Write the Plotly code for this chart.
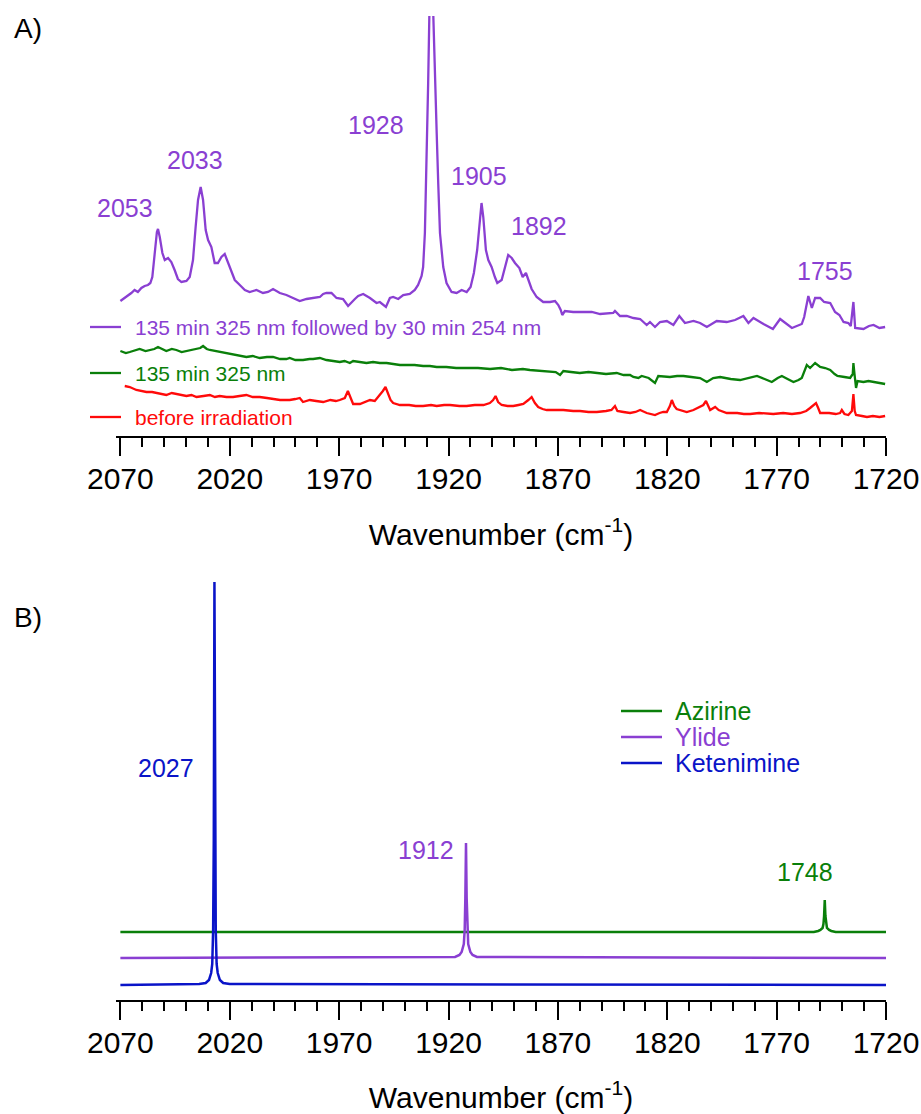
import plotly.graph_objects as go

# ---------------- Panel A: experimental spectra (absorbance, offset) ----------------
purple_wn = [2070.0, 2067.3, 2065.0, 2063.5, 2062.0, 2060.4, 2058.9, 2057.4, 2056.3, 2055.4, 2054.3, 2053.3, 2052.8, 2052.0, 2050.8, 2049.7, 2048.2, 2046.7, 2045.2, 2043.7, 2042.1, 2039.8, 2038.3, 2036.8, 2035.6, 2034.5, 2033.3, 2032.2, 2031.0, 2029.9, 2028.4, 2026.9, 2025.4, 2023.8, 2022.3, 2020.8, 2019.2, 2017.7, 2015.4, 2013.1, 2010.9, 2007.8, 2004.8, 2002.5, 2000.2, 1997.1, 1994.1, 1991.0, 1988.0, 1984.9, 1981.9, 1978.8, 1977.3, 1975.8, 1973.5, 1971.2, 1968.2, 1965.9, 1962.8, 1961.3, 1959.0, 1955.9, 1952.9, 1951.4, 1948.6, 1946.8, 1945.3, 1943.0, 1940.7, 1937.7, 1935.4, 1933.9, 1932.3, 1931.6, 1930.8, 1930.0, 1929.3, 1928.6, 1927.9, 1927.2, 1926.2, 1925.4, 1924.7, 1923.9, 1922.4, 1920.9, 1918.6, 1916.3, 1914.0, 1911.7, 1909.9, 1908.4, 1906.9, 1905.6, 1904.9, 1904.1, 1902.9, 1901.8, 1900.3, 1898.8, 1897.7, 1895.7, 1894.2, 1892.7, 1891.1, 1889.6, 1887.6, 1886.1, 1884.6, 1883.5, 1882.0, 1879.7, 1876.7, 1873.6, 1871.3, 1869.8, 1868.7, 1868.0, 1866.8, 1863.0, 1858.4, 1854.5, 1850.7, 1847.0, 1844.7, 1843.9, 1841.6, 1838.5, 1835.5, 1832.4, 1829.4, 1827.9, 1825.6, 1823.3, 1820.2, 1817.2, 1814.5, 1811.9, 1808.0, 1805.0, 1801.9, 1797.4, 1792.8, 1789.0, 1785.2, 1782.9, 1780.6, 1776.0, 1771.7, 1768.4, 1766.0, 1763.0, 1758.5, 1757.4, 1755.5, 1753.9, 1752.4, 1750.1, 1748.3, 1745.5, 1743.3, 1741.3, 1739.4, 1737.2, 1736.1, 1734.9, 1734.1, 1730.3, 1727.8, 1725.7, 1723.0, 1720.4]
purple_abs = [0.135, 0.139, 0.143, 0.146, 0.144, 0.148, 0.150, 0.151, 0.153, 0.159, 0.186, 0.204, 0.207, 0.199, 0.183, 0.176, 0.178, 0.174, 0.166, 0.157, 0.154, 0.155, 0.159, 0.176, 0.209, 0.236, 0.249, 0.236, 0.206, 0.196, 0.189, 0.173, 0.173, 0.179, 0.182, 0.173, 0.163, 0.156, 0.151, 0.146, 0.144, 0.146, 0.143, 0.144, 0.147, 0.143, 0.141, 0.138, 0.135, 0.137, 0.138, 0.139, 0.142, 0.143, 0.143, 0.138, 0.137, 0.130, 0.137, 0.140, 0.142, 0.138, 0.133, 0.134, 0.129, 0.138, 0.139, 0.137, 0.141, 0.142, 0.146, 0.151, 0.160, 0.169, 0.203, 0.269, 0.353, 0.440, 0.480, 0.440, 0.353, 0.303, 0.253, 0.203, 0.169, 0.153, 0.144, 0.143, 0.146, 0.144, 0.149, 0.163, 0.186, 0.219, 0.233, 0.219, 0.186, 0.176, 0.169, 0.159, 0.153, 0.156, 0.169, 0.181, 0.178, 0.173, 0.168, 0.159, 0.163, 0.156, 0.147, 0.139, 0.134, 0.134, 0.135, 0.131, 0.126, 0.121, 0.125, 0.124, 0.124, 0.124, 0.122, 0.123, 0.123, 0.125, 0.120, 0.120, 0.118, 0.117, 0.111, 0.114, 0.109, 0.114, 0.115, 0.111, 0.120, 0.113, 0.115, 0.113, 0.109, 0.115, 0.114, 0.116, 0.120, 0.113, 0.118, 0.112, 0.107, 0.117, 0.113, 0.108, 0.112, 0.119, 0.140, 0.128, 0.138, 0.138, 0.134, 0.133, 0.124, 0.121, 0.114, 0.113, 0.110, 0.134, 0.108, 0.107, 0.110, 0.111, 0.108, 0.109]

green_wn = [2070.0, 2067.5, 2065.7, 2063.0, 2061.2, 2058.5, 2056.6, 2054.5, 2052.8, 2051.0, 2049.0, 2046.5, 2044.4, 2042.0, 2039.8, 2037.5, 2035.2, 2033.5, 2032.2, 2030.5, 2029.1, 2026.8, 2024.6, 2021.5, 2018.5, 2015.5, 2012.4, 2009.5, 2006.3, 2003.0, 2000.2, 1997.0, 1994.1, 1992.6, 1990.0, 1988.0, 1986.5, 1983.5, 1981.9, 1978.8, 1975.8, 1972.7, 1969.7, 1967.5, 1965.1, 1963.6, 1960.5, 1957.5, 1954.5, 1951.4, 1948.3, 1945.0, 1942.2, 1939.2, 1935.5, 1931.6, 1928.5, 1925.4, 1921.0, 1916.5, 1911.7, 1906.5, 1901.0, 1896.0, 1891.0, 1886.0, 1882.8, 1878.0, 1873.6, 1871.0, 1869.0, 1867.5, 1864.0, 1860.0, 1856.0, 1852.2, 1848.0, 1843.1, 1840.0, 1837.0, 1835.5, 1833.2, 1831.7, 1828.5, 1826.4, 1825.6, 1824.1, 1821.0, 1818.8, 1815.5, 1812.6, 1809.0, 1805.0, 1801.9, 1799.0, 1795.8, 1791.0, 1786.7, 1782.5, 1779.0, 1775.5, 1772.2, 1769.5, 1767.6, 1765.0, 1762.3, 1760.0, 1758.5, 1756.2, 1754.7, 1752.4, 1750.1, 1747.8, 1745.5, 1743.5, 1742.2, 1739.0, 1736.4, 1735.2, 1734.9, 1734.4, 1733.7, 1733.0, 1730.3, 1728.0, 1725.7, 1723.0, 1720.4]
green_abs = [0.085, 0.083, 0.084, 0.086, 0.087, 0.085, 0.086, 0.087, 0.089, 0.087, 0.085, 0.087, 0.086, 0.084, 0.085, 0.086, 0.087, 0.088, 0.090, 0.087, 0.086, 0.085, 0.084, 0.083, 0.081, 0.080, 0.079, 0.080, 0.078, 0.079, 0.079, 0.077, 0.077, 0.078, 0.076, 0.076, 0.076, 0.077, 0.077, 0.078, 0.076, 0.075, 0.074, 0.075, 0.073, 0.075, 0.074, 0.073, 0.074, 0.073, 0.073, 0.072, 0.071, 0.071, 0.071, 0.070, 0.070, 0.069, 0.069, 0.068, 0.068, 0.068, 0.067, 0.068, 0.066, 0.067, 0.066, 0.065, 0.064, 0.064, 0.061, 0.065, 0.064, 0.063, 0.064, 0.063, 0.062, 0.063, 0.061, 0.061, 0.059, 0.058, 0.060, 0.058, 0.054, 0.053, 0.060, 0.059, 0.059, 0.060, 0.060, 0.059, 0.058, 0.054, 0.058, 0.059, 0.057, 0.056, 0.058, 0.060, 0.057, 0.054, 0.058, 0.060, 0.057, 0.054, 0.056, 0.058, 0.071, 0.068, 0.073, 0.069, 0.068, 0.066, 0.062, 0.060, 0.059, 0.058, 0.062, 0.073, 0.062, 0.048, 0.055, 0.054, 0.055, 0.054, 0.053, 0.052]

red_wn = [2068.0, 2065.7, 2062.7, 2060.0, 2058.1, 2055.5, 2053.5, 2051.0, 2049.0, 2046.5, 2044.4, 2042.0, 2039.8, 2037.5, 2035.2, 2032.0, 2029.1, 2026.8, 2024.6, 2021.5, 2018.5, 2015.5, 2012.4, 2009.5, 2006.3, 2003.0, 2000.2, 1997.0, 1994.1, 1992.6, 1990.0, 1988.0, 1986.5, 1983.4, 1980.5, 1977.3, 1974.0, 1971.5, 1969.7, 1967.4, 1966.0, 1964.8, 1963.6, 1960.5, 1958.0, 1955.9, 1953.7, 1951.4, 1950.0, 1948.8, 1947.6, 1946.5, 1945.3, 1942.2, 1938.0, 1935.0, 1931.6, 1928.0, 1925.4, 1922.0, 1919.3, 1915.0, 1911.7, 1908.0, 1904.0, 1901.1, 1899.6, 1898.5, 1897.3, 1895.7, 1893.0, 1890.4, 1888.0, 1885.8, 1883.5, 1882.0, 1880.5, 1879.0, 1877.0, 1875.1, 1871.0, 1867.5, 1863.0, 1859.9, 1856.0, 1852.2, 1848.0, 1845.5, 1843.9, 1842.8, 1840.0, 1837.0, 1834.5, 1832.4, 1829.4, 1827.9, 1825.6, 1823.5, 1821.8, 1820.2, 1818.8, 1817.9, 1816.8, 1815.7, 1813.0, 1811.1, 1808.0, 1805.0, 1803.5, 1802.3, 1801.0, 1800.4, 1798.1, 1796.5, 1792.8, 1788.0, 1785.0, 1782.1, 1778.0, 1774.0, 1771.5, 1767.0, 1763.0, 1759.3, 1756.5, 1754.7, 1752.0, 1751.0, 1750.1, 1746.0, 1743.0, 1741.0, 1740.2, 1739.0, 1737.2, 1735.6, 1734.9, 1734.3, 1733.7, 1731.0, 1728.7, 1726.0, 1723.0, 1720.4]
red_abs = [0.050, 0.049, 0.046, 0.045, 0.044, 0.044, 0.043, 0.042, 0.041, 0.043, 0.042, 0.041, 0.040, 0.041, 0.039, 0.040, 0.041, 0.039, 0.040, 0.039, 0.039, 0.040, 0.041, 0.039, 0.039, 0.038, 0.037, 0.036, 0.036, 0.036, 0.037, 0.038, 0.034, 0.036, 0.035, 0.034, 0.036, 0.035, 0.036, 0.038, 0.045, 0.038, 0.032, 0.032, 0.034, 0.036, 0.035, 0.041, 0.045, 0.049, 0.041, 0.036, 0.033, 0.031, 0.031, 0.030, 0.030, 0.031, 0.030, 0.031, 0.031, 0.030, 0.030, 0.031, 0.031, 0.033, 0.036, 0.040, 0.034, 0.031, 0.030, 0.030, 0.031, 0.032, 0.036, 0.039, 0.033, 0.029, 0.027, 0.026, 0.026, 0.026, 0.025, 0.025, 0.024, 0.024, 0.025, 0.026, 0.030, 0.025, 0.024, 0.023, 0.024, 0.026, 0.023, 0.022, 0.021, 0.023, 0.024, 0.024, 0.030, 0.036, 0.030, 0.027, 0.025, 0.024, 0.026, 0.029, 0.031, 0.035, 0.028, 0.026, 0.029, 0.026, 0.023, 0.023, 0.022, 0.022, 0.023, 0.022, 0.022, 0.023, 0.022, 0.023, 0.025, 0.028, 0.033, 0.028, 0.023, 0.023, 0.022, 0.023, 0.026, 0.022, 0.021, 0.025, 0.042, 0.025, 0.021, 0.020, 0.019, 0.020, 0.019, 0.020]

series_a_names = ["135 min 325 nm followed by 30 min 254 nm", "135 min 325 nm", "before irradiation"]
peak_labels_a = ["2053", "2033", "1928", "1905", "1892", "1755"]
peak_label_a_wn = [2068.0, 2036.0, 1953.2, 1906.1, 1878.6, 1747.9]
peak_label_a_abs = [0.228, 0.276, 0.311, 0.260, 0.210, 0.165]

# ---------------- Panel B: computed spectra (offset) ----------------
azirine_wn = [2070.0, 1753.0, 1751.0, 1750.0, 1749.0, 1748.6, 1748.3, 1748.0, 1747.7, 1747.4, 1747.0, 1746.0, 1745.0, 1743.0, 1720.0]
azirine_int = [0.068, 0.068, 0.069, 0.070, 0.072, 0.076, 0.084, 0.100, 0.084, 0.076, 0.072, 0.070, 0.069, 0.068, 0.068]

ylide_wn = [2070.0, 1917.0, 1915.0, 1914.0, 1913.0, 1912.6, 1912.3, 1912.0, 1911.7, 1911.4, 1911.0, 1910.0, 1909.0, 1907.0, 1720.0]
ylide_int = [0.042, 0.043, 0.045, 0.048, 0.056, 0.070, 0.102, 0.157, 0.102, 0.070, 0.056, 0.048, 0.045, 0.043, 0.042]

keten_wn = [2070.0, 2034.0, 2031.0, 2029.5, 2028.5, 2028.0, 2027.6, 2027.3, 2027.0, 2026.7, 2026.4, 2026.0, 2025.5, 2024.5, 2023.0, 2020.0, 1720.0]
keten_int = [0.015, 0.016, 0.017, 0.020, 0.027, 0.036, 0.070, 0.160, 0.418, 0.160, 0.070, 0.036, 0.027, 0.020, 0.017, 0.016, 0.015]

series_b_names = ["Azirine", "Ylide", "Ketenimine"]
peak_labels_b = ["2027", "1912", "1748"]
peak_label_b_wn = [2049.0, 1930.3, 1757.0]
peak_label_b_int = [0.232, 0.150, 0.128]

tick_vals = [2070, 2020, 1970, 1920, 1870, 1820, 1770, 1720]
tick_text = [str(v) for v in tick_vals]

# ---------------- styling ----------------
PURPLE = "#8A3FD2"
GREEN = "#0A7F0A"
RED = "#FF0A0A"
BLUE = "#0A14C8"
FONT = "Liberation Sans, Arial, Helvetica, sans-serif"
W, H = 921, 1114

fig = go.Figure()

for wn, ab, col, nm in [(purple_wn, purple_abs, PURPLE, series_a_names[0]),
                        (green_wn, green_abs, GREEN, series_a_names[1]),
                        (red_wn, red_abs, RED, series_a_names[2])]:
    fig.add_trace(go.Scatter(x=wn, y=ab, mode="lines", name=nm,
                             line=dict(color=col, width=2.3), xaxis="x", yaxis="y"))

for wn, it, col, nm in [(azirine_wn, azirine_int, GREEN, series_b_names[0]),
                        (ylide_wn, ylide_int, PURPLE, series_b_names[1]),
                        (keten_wn, keten_int, BLUE, series_b_names[2])]:
    fig.add_trace(go.Scatter(x=wn, y=it, mode="lines", name=nm,
                             line=dict(color=col, width=2.5), xaxis="x2", yaxis="y2"))

x_left, x_right = 116 / W, 886 / W

xaxis_common = dict(
    range=[2072, 1720], showline=True, linecolor="black", linewidth=2,
    automargin=False,
    ticks="outside", ticklen=18, tickwidth=2, tickcolor="black",
    ticklabelstandoff=-3,
    tickvals=tick_vals, ticktext=tick_text,
    tickfont=dict(family=FONT, size=30, color="black"),
    showgrid=False, zeroline=False,
    minor=dict(dtick=10, tick0=1720, ticks="outside", ticklen=9, tickwidth=2,
               tickcolor="black", showgrid=False),
    title=dict(text="Wavenumber (cm<sup>-1</sup>)", font=dict(family=FONT, size=30, color="black"),
               standoff=30),
)

fig.update_layout(
    width=W, height=H, margin=dict(l=0, r=0, t=0, b=0, autoexpand=False),
    paper_bgcolor="white", plot_bgcolor="white", showlegend=False,
    xaxis=dict(domain=[x_left, x_right], anchor="y", **xaxis_common),
    yaxis=dict(domain=[1 - 436 / H, 1 - 16 / H], range=[0, 0.42], visible=False, automargin=False),
    xaxis2=dict(domain=[x_left, x_right], anchor="y2", **xaxis_common),
    yaxis2=dict(domain=[1 - 1000 / H, 1 - 575 / H], range=[0, 0.425], visible=False, automargin=False),
)

annotations = []
shapes = []

# panel letters
annotations.append(dict(text="A)", x=12 / W, y=1 - 28 / H, xref="paper", yref="paper",
                        xanchor="left", yanchor="middle", showarrow=False,
                        font=dict(family=FONT, size=28, color="black")))
annotations.append(dict(text="B)", x=12 / W, y=1 - 617 / H, xref="paper", yref="paper",
                        xanchor="left", yanchor="middle", showarrow=False,
                        font=dict(family=FONT, size=28, color="black")))

# panel A peak labels
for t, xw, ya in zip(peak_labels_a, peak_label_a_wn, peak_label_a_abs):
    annotations.append(dict(text=t, x=xw, y=ya, xref="x", yref="y", showarrow=False,
                            xanchor="center", yanchor="middle",
                            font=dict(family=FONT, size=25, color=PURPLE)))

# panel A legend
leg_a_y = [327, 373, 417]
for nm, col, py in zip(series_a_names, [PURPLE, GREEN, RED], leg_a_y):
    shapes.append(dict(type="line", xref="paper", yref="paper", x0=90 / W, x1=121 / W,
                       y0=1 - py / H, y1=1 - py / H, line=dict(color=col, width=2.3)))
    annotations.append(dict(text=nm, x=133 / W, y=1 - py / H, xref="paper", yref="paper",
                            xanchor="left", yanchor="middle", showarrow=False,
                            font=dict(family=FONT, size=21, color=col)))

# panel B peak labels
for t, xw, yi, col in zip(peak_labels_b, peak_label_b_wn, peak_label_b_int, [BLUE, PURPLE, GREEN]):
    annotations.append(dict(text=t, x=xw, y=yi, xref="x2", yref="y2", showarrow=False,
                            xanchor="center", yanchor="middle",
                            font=dict(family=FONT, size=25, color=col)))

# panel B legend
leg_b_y = [711, 737, 763]
for nm, col, py in zip(series_b_names, [GREEN, PURPLE, BLUE], leg_b_y):
    shapes.append(dict(type="line", xref="paper", yref="paper", x0=621 / W, x1=662 / W,
                       y0=1 - py / H, y1=1 - py / H, line=dict(color=col, width=2.5)))
    annotations.append(dict(text=nm, x=673 / W, y=1 - py / H, xref="paper", yref="paper",
                            xanchor="left", yanchor="middle", showarrow=False,
                            font=dict(family=FONT, size=25, color=col)))

fig.update_layout(annotations=annotations, shapes=shapes)

fig.write_html(
    "out.html",
    config={"displayModeBar": False},
    post_script="document.body.style.margin='0';document.body.style.overflow='hidden';",
)
